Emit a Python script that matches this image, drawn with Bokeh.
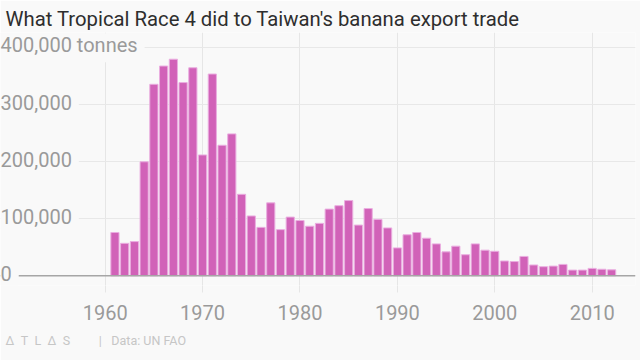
from bokeh.plotting import figure
from bokeh.models import Range1d, FixedTicker, Label, Span, Title
from bokeh.embed import file_html
from bokeh.resources import INLINE

# ---- data ----
years = list(range(1961, 2013))
exports = [76000, 57000, 60000, 200000, 336000, 368000, 380000, 339000, 365000, 212000,
           354000, 229000, 249000, 143000, 105000, 85000, 128000, 81000, 103000, 97000,
           87000, 92000, 117000, 123000, 132000, 89000, 118000, 99000, 84000, 49000,
           72000, 76000, 66000, 56000, 42000, 52000, 37000, 56000, 45000, 43000,
           26000, 25000, 34000, 19000, 16000, 17000, 20000, 10000, 10000, 13000,
           11500, 10500]
x_ticks = [1960, 1970, 1980, 1990, 2000, 2010]
x_tick_labels = ["1960", "1970", "1980", "1990", "2000", "2010"]
y_ticks = [0, 100000, 200000, 300000, 400000]
y_tick_labels = ["0", "100,000", "200,000", "300,000", "400,000 tonnes"]

title_text = "What Tropical Race 4 did to Taiwan's banana export trade"
E = "\u2002"
footer_text = ("\u0394" + E + "T" + E + "L" + E + "\u0394" + E + "S"
               + E * 4 + " |" + E + " Data: UN FAO")

BG = "#f9f9f9"
FONT = "Roboto"
Y0 = -17000

p = figure(width=640, height=360, frame_width=635, frame_height=253,
           output_backend="svg", toolbar_location=None,
           x_range=Range1d(1949.25, 2014.45), y_range=Range1d(Y0, 426850),
           min_border_left=0, min_border_right=5, min_border_top=32, min_border_bottom=75)
p.background_fill_color = BG
p.border_fill_color = BG
p.outline_line_color = None

p.vbar(x=years, top=exports, width=0.84, fill_color="#d162b8",
       line_color="#eaaee0", line_width=1)

p.ygrid.ticker = FixedTicker(ticks=y_ticks)
p.ygrid.grid_line_color = "#e8e8e8"
p.ygrid.grid_line_width = 1
p.xgrid.ticker = FixedTicker(ticks=x_ticks)
p.xgrid.grid_line_color = "#e6e6e6"
p.xgrid.bounds = (Y0, 0)
p.yaxis.visible = False

ax = p.xaxis[0]
ax.ticker = FixedTicker(ticks=x_ticks)
ax.major_label_overrides = {t: l for t, l in zip(x_ticks, x_tick_labels)}
ax.axis_line_color = None
ax.major_tick_line_color = "#e6e6e6"
ax.major_tick_out = 7
ax.major_tick_in = 0
ax.minor_tick_line_color = None
ax.major_label_text_font = FONT
ax.major_label_text_font_size = "20px"
ax.major_label_text_color = "#9a9a9a"
ax.major_label_standoff = 12

p.add_layout(Span(location=0, dimension="width", line_color="#a6a6a6", line_width=1.5))

for v, t in zip(y_ticks, y_tick_labels):
    p.add_layout(Label(x=0, x_units="screen", y=v, y_units="data", text=t,
                       text_font=FONT, text_font_size="20px", text_color="#9a9a9a",
                       text_baseline="middle", text_align="left",
                       background_fill_color=BG, padding=(0, 7, 0, 5)))

p.add_layout(Title(text=title_text, align="left", text_font=FONT, text_font_size="20.3px",
                   text_font_style="normal", text_color="#2e2e2e", offset=5, standoff=4), "above")

p.add_layout(Title(text=footer_text, align="left", text_font=FONT, text_font_size="12.5px",
                   text_font_style="normal", text_color="#c6c6c6", offset=5, standoff=16), "below")

open("out.html", "w").write(file_html(p, INLINE))
